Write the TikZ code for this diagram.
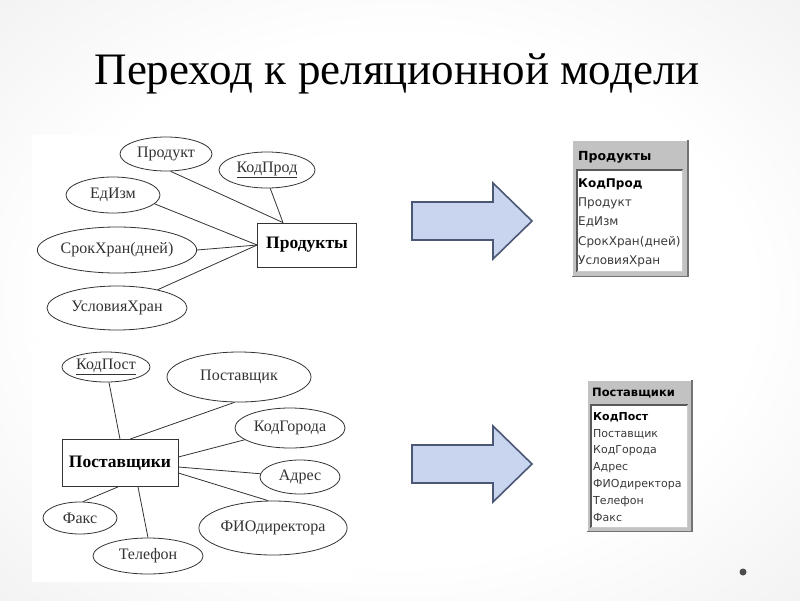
\documentclass[tikz,border=0pt]{standalone}
\usepackage{fontspec}
\setmainfont{Liberation Serif}
\newfontfamily\tabfont{DejaVu Sans}
\usetikzlibrary{shapes.geometric}
\definecolor{arrowfill}{HTML}{C9D5EE}
\definecolor{arrowline}{HTML}{4B5875}
\definecolor{ertext}{HTML}{333333}
\definecolor{tabgray}{HTML}{C2C2C2}
\definecolor{tabtext}{HTML}{3A3A3A}
\pgfdeclareradialshading{slidebg}{\pgfpoint{0bp}{0bp}}{color(0bp)=(white); color(22bp)=(white); color(50bp)=(gray!20); color(72bp)=(gray!36)}
\begin{document}
\begin{tikzpicture}[x=1pt, y=-1pt,
  attr/.style={ellipse, draw=black!80, line width=0.8pt, inner sep=0pt, text=ertext, font=\fontsize{16}{16}\selectfont},
  ent/.style={rectangle, draw=black!80, line width=0.8pt, inner sep=0pt, font=\fontsize{17.5}{17.5}\selectfont\bfseries},
  link/.style={draw=black!80, line width=0.8pt},
  bigarrow/.style={draw=arrowline, fill=arrowfill, line width=1.6pt, line join=miter},
  row/.style={anchor=west, inner sep=0pt, text=tabtext, font=\tabfont\fontsize{12}{12}\selectfont},
  rowsmall/.style={row, font=\tabfont\fontsize{11}{11}\selectfont}]
\useasboundingbox (0,0) rectangle (800,600);
\shade[shading=slidebg] (0,0) rectangle (800,600);
\fill[white] (32,135) rectangle (372,337);
\fill[white] (32,343) rectangle (352,582);
\node[anchor=base, font=\fontsize{45}{45}\selectfont] (title) at (397,84) {Переход к реляционной модели};

% Products
\node[attr, minimum width=92pt, minimum height=34pt] (prodkt) at (166,154) {Продукт};
\node[attr, minimum width=96pt, minimum height=36pt] (kodprod) at (267,170) {\underline{КодПрод}};
\node[attr, minimum width=94pt, minimum height=36pt] (edizm) at (113,195) {ЕдИзм};
\node[attr, minimum width=140pt, minimum height=46pt] (srok) at (117,250) {СрокХран(дней)};
\node[attr, minimum width=140pt, minimum height=44pt] (uslov) at (117,308) {УсловияХран};
\node[ent, minimum width=99pt, minimum height=44pt] (prodbox) at (307,245) {Продукты};
\draw[link] (prodkt.-75) -- ([xshift=-24pt]prodbox.north);
\draw[link] (kodprod.-80) -- ([xshift=-24pt]prodbox.north);
\draw[link] (edizm.-12) -- (prodbox.west);
\draw[link] (srok.east) -- (prodbox.west);
\draw[link] (uslov) -- (prodbox.west);

% Suppliers
\node[attr, minimum width=88pt, minimum height=30pt] (kodpost) at (106,367) {\underline{КодПост}};
\node[attr, minimum width=144pt, minimum height=50pt] (postav) at (239,377) {Поставщик};
\node[attr, minimum width=110pt, minimum height=40pt] (kodgor) at (290,428) {КодГорода};
\node[attr, minimum width=80pt, minimum height=34pt] (adres) at (300,477) {Адрес};
\node[attr, minimum width=144pt, minimum height=54pt] (fio) at (273,528) {ФИОдиректора};
\node[attr, minimum width=74pt, minimum height=32pt] (faks) at (80,518) {Факс};
\node[attr, minimum width=110pt, minimum height=36pt] (telef) at (148,556) {Телефон};
\node[ent, minimum width=116pt, minimum height=47pt] (postbox) at (120,463) {Поставщики};
\draw[link] (kodpost) -- (postbox.north);
\draw[link] (postav.-100) -- ([xshift=10pt]postbox.north);
\draw[link] (kodgor) -- ([yshift=6pt]postbox.east);
\draw[link] (adres) -- ([yshift=-4pt]postbox.east);
\draw[link] (fio.100) -- ([yshift=-10pt]postbox.east);
\draw[link] (faks.80) -- ([xshift=-2pt]postbox.south);
\draw[link] (telef.north) -- ([xshift=18pt]postbox.south);

% arrows
\draw[bigarrow] (412,202) -- (493,202) -- (493,183) -- (532,221) -- (493,259) -- (493,240) -- (412,240) -- cycle;
\draw[bigarrow] (412,445) -- (493,445) -- (493,426) -- (532,464) -- (493,502) -- (493,483) -- (412,483) -- cycle;

% table Products
\fill[tabgray] (572,140) rectangle (688,277);
\draw[white] (572.5,277) -- (572.5,140.5) -- (688,140.5);
\draw[black!55, line width=1.5pt] (572,276.5) -- (688,276.5) -- (688,140);
\fill[white] (577,170) rectangle (683,272);
\draw[black!65, line width=1.2pt] (577,272) -- (577,170) -- (683,170);
\draw[gray!40] (577,271.5) -- (682.5,271.5) -- (682.5,170);
\node[row, text=black, font=\tabfont\bfseries\fontsize{12.5}{12.5}\selectfont] (ptitle) at (578,157) {Продукты};
\node[row, text=black, font=\tabfont\bfseries\fontsize{12}{12}\selectfont] (p1) at (578,184) {КодПрод};
\node[row] (p2) at (578,203) {Продукт};
\node[row] (p3) at (578,222) {ЕдИзм};
\node[row] (p4) at (578,242) {СрокХран(дней)};
\node[row] (p5) at (578,261) {УсловияХран};

% table Suppliers
\fill[tabgray] (587,380) rectangle (692,532);
\draw[white] (587.5,532) -- (587.5,380.5) -- (692,380.5);
\draw[black!55, line width=1.5pt] (587,531.5) -- (692,531.5) -- (692,380);
\fill[white] (591,405) rectangle (688,528);
\draw[black!65, line width=1.2pt] (591,528) -- (591,405) -- (688,405);
\draw[gray!40] (591,527.5) -- (687.5,527.5) -- (687.5,405);
\node[rowsmall, text=black, font=\tabfont\bfseries\fontsize{11.5}{11.5}\selectfont] (stitle) at (592,393) {Поставщики};
\node[rowsmall, text=black, font=\tabfont\bfseries\fontsize{11}{11}\selectfont] (s1) at (593,417) {КодПост};
\node[rowsmall] (s2) at (593,434) {Поставщик};
\node[rowsmall] (s3) at (593,451) {КодГорода};
\node[rowsmall] (s4) at (593,468) {Адрес};
\node[rowsmall] (s5) at (593,485) {ФИОдиректора};
\node[rowsmall] (s6) at (593,502) {Телефон};
\node[rowsmall] (s7) at (593,518) {Факс};

\fill[gray!60!black] (743,572) circle (3.5pt);
\end{tikzpicture}
\end{document}
